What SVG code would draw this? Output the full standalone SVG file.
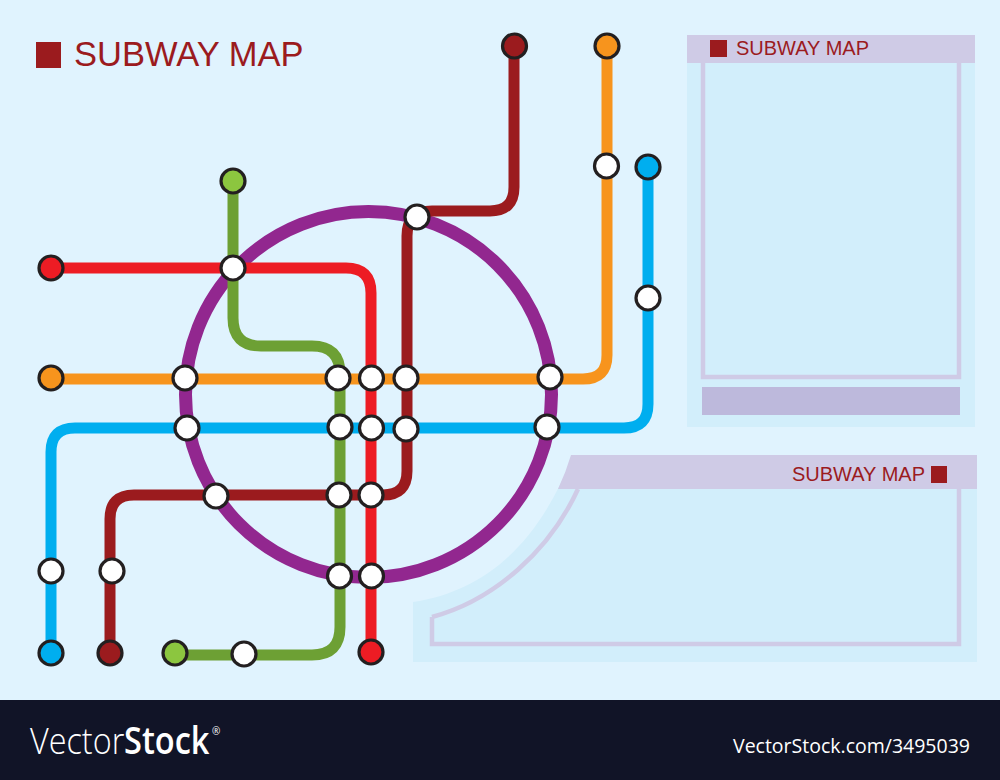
<svg xmlns="http://www.w3.org/2000/svg" width="1000" height="780" viewBox="0 0 1000 780">
<style>
.line{fill:none;stroke-width:11;stroke-linecap:butt}
.st{fill:#fff;stroke:#231f20;stroke-width:3.2}
.t{font-family:"Liberation Sans",Arial,sans-serif;fill:#9b1b1e}
.panel{fill:#d2eefb}
.head{fill:#cfcbe6}
.frame{fill:none;stroke:#cfcbe6;stroke-width:4.5}
.mark{fill:#9b1b1e}
.f{font-family:"Open Sans","Liberation Sans",sans-serif;fill:#fff}
</style>
<rect width="1000" height="780" fill="#e0f3fe"/>
<g id="title"><rect class="mark" x="36" y="42" width="25" height="26"/><text class="t" x="74" y="66" font-size="34.5">SUBWAY MAP</text></g>
<g id="panel-right">
<rect class="panel" x="687" y="35" width="288" height="392"/>
<path class="frame" d="M703 63V377H959V63"/>
<rect class="head" x="687" y="35" width="288" height="28"/>
<rect x="702" y="387" width="258" height="28" fill="#bdb9dc"/>
<rect class="mark" x="710" y="40" width="17" height="17"/>
<text class="t" x="736" y="54.500" font-size="20">SUBWAY MAP</text>
</g>
<g id="panel-bottom">
<path class="panel" d="M413 602C480 592 535 550 571 460V489H977V662H413Z"/>
<path class="frame" d="M432 617C495 600 550 550 578 489M432 617V644H959V489"/>
<path class="head" d="M571 455H977V489H558Q566 472 571 455Z"/>
<text class="t" x="792" y="481" font-size="20">SUBWAY MAP</text>
<rect class="mark" x="931" y="466" width="16" height="17"/>
</g>
<g id="connectors">
<circle class="line" cx="368.5" cy="394.5" r="183" stroke="#92278f" style="stroke-width:13"/>
<path class="line" stroke="#6da034" d="M233 181V318Q233 346 261 346H312Q340 346 340 374V627Q340 655 312 655H175"/>
<path class="line" stroke="#f7941d" d="M51 379H583Q607 379 607 355V46"/>
<path class="line" stroke="#00aeef" d="M51 653V452Q51 428 75 428H624Q648 428 648 404V167"/>
<path class="line" stroke="#9b1b1e" d="M110 653V519Q110 495 134 495H383Q407 495 407 471V236Q407 211 432 211H490Q514 211 514 187V46"/>
<path class="line" stroke="#ed1c24" d="M51 268H346Q371 268 371 293V652"/>
</g>
<g id="stations">
<circle class="st" id="end-darkred-top" cx="514.5" cy="46" r="12" style="fill:#9b1b1e"/>
<circle class="st" id="end-orange-top" cx="607" cy="46" r="12" style="fill:#f7941d"/>
<circle class="st" id="end-blue-top" cx="648" cy="167" r="12" style="fill:#00aeef"/>
<circle class="st" id="end-green-top" cx="233" cy="181" r="12" style="fill:#8cc63f"/>
<circle class="st" id="end-red-left" cx="51" cy="268" r="12" style="fill:#ed1c24"/>
<circle class="st" id="end-orange-left" cx="51" cy="378" r="12" style="fill:#f7941d"/>
<circle class="st" id="end-blue-bottom" cx="51" cy="653" r="12" style="fill:#00aeef"/>
<circle class="st" id="end-darkred-bottom" cx="110" cy="653" r="12" style="fill:#9b1b1e"/>
<circle class="st" id="end-green-bottom" cx="175" cy="653" r="12" style="fill:#8cc63f"/>
<circle class="st" id="end-red-bottom" cx="371" cy="652" r="12" style="fill:#ed1c24"/>
<circle class="st" id="s1" cx="606.5" cy="166" r="12"/>
<circle class="st" id="s2" cx="648" cy="298" r="12"/>
<circle class="st" id="s3" cx="417" cy="217" r="12"/>
<circle class="st" id="s4" cx="233" cy="268" r="12"/>
<circle class="st" id="s5" cx="185" cy="378" r="12"/>
<circle class="st" id="s6" cx="338" cy="378" r="12"/>
<circle class="st" id="s7" cx="371.5" cy="378" r="12"/>
<circle class="st" id="s8" cx="406" cy="378" r="12"/>
<circle class="st" id="s9" cx="550" cy="377" r="12"/>
<circle class="st" id="s10" cx="187" cy="428" r="12"/>
<circle class="st" id="s11" cx="340" cy="427" r="12"/>
<circle class="st" id="s12" cx="371.5" cy="428" r="12"/>
<circle class="st" id="s13" cx="406" cy="429" r="12"/>
<circle class="st" id="s14" cx="547" cy="427" r="12"/>
<circle class="st" id="s15" cx="216" cy="496" r="12"/>
<circle class="st" id="s16" cx="339" cy="495" r="12"/>
<circle class="st" id="s17" cx="371" cy="495" r="12"/>
<circle class="st" id="s18" cx="339.5" cy="576" r="12"/>
<circle class="st" id="s19" cx="371.5" cy="576" r="12"/>
<circle class="st" id="s20" cx="51" cy="571" r="12"/>
<circle class="st" id="s21" cx="112" cy="571" r="12"/>
<circle class="st" id="s22" cx="244" cy="654" r="12"/>
</g>
<g id="footer">
<rect y="700" width="1000" height="80" fill="#111427"/>
<text class="f" transform="translate(30 754) scale(.875 1)" font-size="37" font-weight="300">Vector</text>
<text class="f" transform="translate(124 754) scale(.88 1)" font-size="37" font-weight="600">Stock</text>
<text class="f" x="212" y="735" font-size="10">®</text>
<text class="f" x="733" y="753" font-size="19.5">VectorStock.com/3495039</text>
</g>
</svg>
